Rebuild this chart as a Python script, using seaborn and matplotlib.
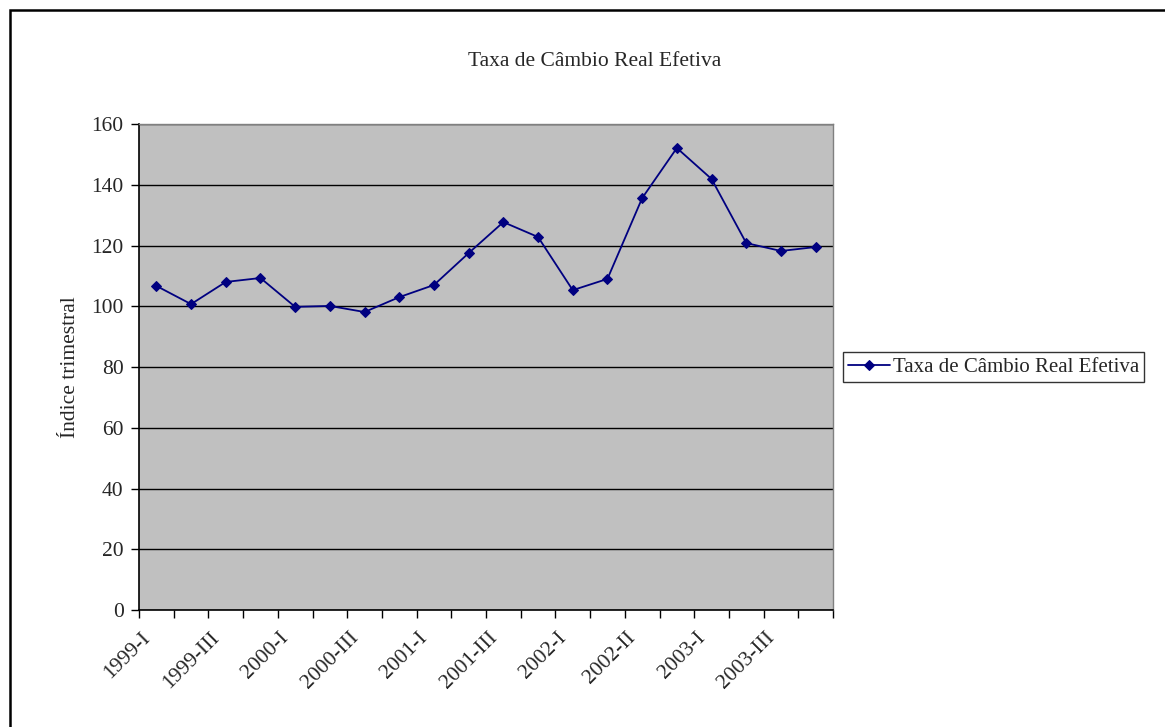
import matplotlib
matplotlib.use("Agg")
import matplotlib.pyplot as plt
import matplotlib.transforms as mtransforms
import seaborn as sns
import pandas as pd
import numpy as np
from matplotlib.patches import Rectangle

quarters = ["1999-I", "1999-II", "1999-III", "1999-IV",
            "2000-I", "2000-II", "2000-III", "2000-IV",
            "2001-I", "2001-II", "2001-III", "2001-IV",
            "2002-I", "2002-I ", "2002-II", "2002-III",
            "2003-I", "2003-II", "2003-III", "2003-IV"]
shown_labels = ["1999-I", "", "1999-III", "", "2000-I", "", "2000-III", "",
                "2001-I", "", "2001-III", "", "2002-I", "", "2002-II", "",
                "2003-I", "", "2003-III", ""]
values = [106.7, 100.7, 108.0, 109.3, 99.8, 100.1, 98.1, 103.0, 107.0, 117.5,
          127.7, 122.8, 105.3, 109.0, 135.6, 152.1, 141.9, 120.8, 118.2, 119.5]
series_name = "Taxa de Câmbio Real Efetiva"

sns.set_style("white")
plt.rcParams["font.family"] = ["Liberation Serif", "DejaVu Serif"]
FS = 15.5

df = pd.DataFrame({"idx": np.arange(len(quarters)), "val": values, "serie": series_name})

W, H = 1165, 727
fig = plt.figure(figsize=(W / 100, H / 100), dpi=100)
ax = fig.add_axes([139 / W, 1 - 610 / H, (833 - 139) / W, (610 - 124) / H])
ax.set_facecolor("#c0c0c0")

sns.lineplot(data=df, x="idx", y="val", hue="serie", palette=["#000080"],
             marker="D", markersize=5.5, markeredgecolor="#000080",
             linewidth=1.3, ax=ax)

ax.set_xlim(-0.5, len(quarters) - 0.5)
ax.set_ylim(0, 160)
ax.set_yticks(range(0, 161, 20))
ax.yaxis.grid(True, color="black", linewidth=1.0)
ax.xaxis.grid(False)
ax.set_axisbelow(True)

ax.set_xticks(np.arange(len(quarters)))
ax.set_xticklabels(shown_labels, rotation=45, ha="right", va="center",
                   rotation_mode="anchor", fontsize=FS)
ax.tick_params(axis="x", length=0, pad=18)
shift = mtransforms.ScaledTranslation(-9 / 100, 0, fig.dpi_scale_trans)
for lbl in ax.get_xticklabels():
    lbl.set_transform(lbl.get_transform() + shift)
ax.set_xticks(np.arange(-0.5, len(quarters), 1), minor=True)
ax.tick_params(axis="x", which="minor", length=6, width=1, color="black", direction="out", bottom=True)
ax.tick_params(axis="y", length=6, width=1, color="black", direction="out", left=True, labelsize=FS, pad=5)

for s in ["left", "bottom"]:
    ax.spines[s].set_color("black")
    ax.spines[s].set_linewidth(1.2)
for s in ["top", "right"]:
    ax.spines[s].set_color("#808080")
    ax.spines[s].set_linewidth(1.0)

ax.set_xlabel("")
ax.set_ylabel("Índice trimestral", fontsize=FS, labelpad=8)

fig.text(595 / W, 1 - 62 / H, "Taxa de Câmbio Real Efetiva", ha="center", va="center", fontsize=FS)

leg = ax.legend(loc="center left", bbox_to_anchor=(843 / W, 1 - 367 / H),
                bbox_transform=fig.transFigure, fontsize=15, frameon=True,
                fancybox=False, edgecolor="black", borderpad=0.25,
                handlelength=2.0, handletextpad=0.15, borderaxespad=0)
leg.get_frame().set_linewidth(1.0)
for h in leg.legend_handles:
    h.set_markersize(5)

fig.patches.append(Rectangle((9.5 / W, -0.1), 1.2, 1 - 9.5 / H + 0.1,
                             transform=fig.transFigure, fill=False,
                             edgecolor="black", linewidth=1.8, zorder=0))

fig.savefig("out.png", dpi=100)
